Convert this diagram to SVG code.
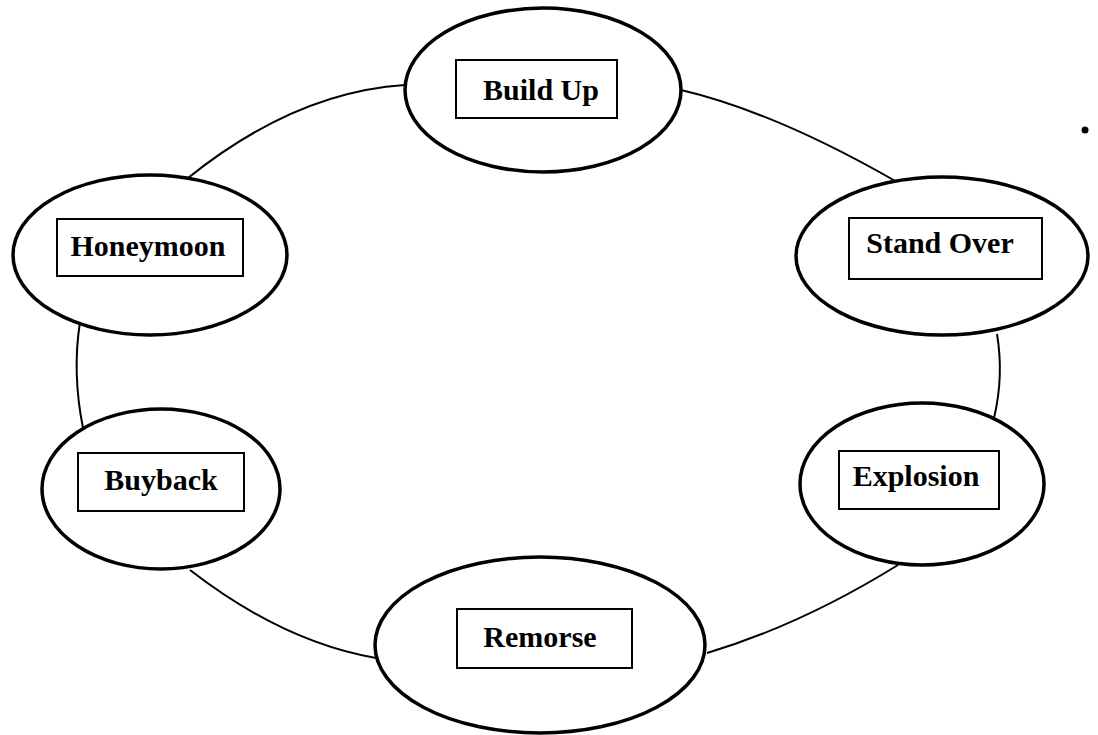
<svg xmlns="http://www.w3.org/2000/svg" width="1098" height="735" viewBox="0 0 1098 735">
<style>
.ell{fill:#fff;stroke:#000;stroke-width:3.5}
.box{fill:#fff;stroke:#000;stroke-width:2}
.lbl{font-family:"Liberation Serif","Times New Roman",serif;font-weight:bold;font-size:30px;fill:#000;text-anchor:middle}
.con{fill:none;stroke:#000;stroke-width:2}
</style>
<rect width="1098" height="735" fill="#fff"/>
<g id="connectors">
<path class="con" d="M405,85 Q295,92 188,178"/>
<path class="con" d="M681,90 Q775,112 897,182"/>
<path class="con" d="M997,334 Q1004,376 994,418"/>
<path class="con" d="M898,565 Q801,625 707,653"/>
<path class="con" d="M376,658 Q283,642 190,570"/>
<path class="con" d="M80,322 Q72,373 83,428"/>
</g>
<g id="build-up">
<ellipse class="ell" cx="543" cy="90" rx="138" ry="82"/>
<rect class="box" x="456" y="60" width="161" height="58"/>
<text class="lbl" x="541" y="100">Build Up</text>
</g>
<g id="stand-over">
<ellipse class="ell" cx="942" cy="256" rx="146" ry="79"/>
<rect class="box" x="849" y="218" width="193" height="61"/>
<text class="lbl" x="940" y="253">Stand Over</text>
</g>
<g id="explosion">
<ellipse class="ell" cx="922" cy="484" rx="122" ry="81"/>
<rect class="box" x="839" y="451" width="160" height="58"/>
<text class="lbl" x="916" y="486">Explosion</text>
</g>
<g id="remorse">
<ellipse class="ell" cx="540" cy="645" rx="165" ry="88"/>
<rect class="box" x="457" y="609" width="175" height="59"/>
<text class="lbl" x="540" y="647">Remorse</text>
</g>
<g id="buyback">
<ellipse class="ell" cx="161" cy="489" rx="119" ry="80"/>
<rect class="box" x="78" y="453" width="166" height="58"/>
<text class="lbl" x="161" y="490">Buyback</text>
</g>
<g id="honeymoon">
<ellipse class="ell" cx="150" cy="255" rx="137" ry="80"/>
<rect class="box" x="57" y="219" width="186" height="57"/>
<text class="lbl" x="148" y="256">Honeymoon</text>
</g>
<circle cx="1085" cy="130" r="3.5" fill="#000"/>
</svg>
